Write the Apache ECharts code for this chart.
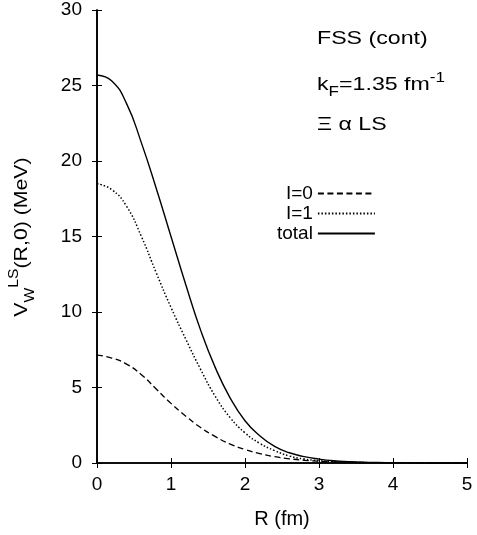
<!DOCTYPE html>
<html>
<head>
<meta charset="utf-8">
<script src="https://cdn.jsdelivr.net/npm/echarts@6/dist/echarts.min.js"></script>
<style>
html,body{margin:0;padding:0;background:#fff;}
#c{width:477px;height:535px;}
</style>
</head>
<body>
<div id="c"></div>
<script>
// R (fm)
var rValues = [0,0.2,0.4,0.6,0.8,1.0,1.2,1.4,1.6,1.8,2.0,2.2,2.4,2.6,2.8,3.0,3.2,3.4,3.6,3.8,4.0,4.2,4.4,4.6,4.8,5.0];
// V (MeV) for I=0 (dashed)
var iso0 = [7.15,6.95,6.55,5.85,4.9,3.95,3.1,2.35,1.75,1.25,0.9,0.62,0.42,0.28,0.18,0.12,0.08,0.05,0.03,0.02,0.01,0.005,0,0,0,0];
// V (MeV) for I=1 (dotted)
var iso1 = [18.5,18.1,17.0,15.0,12.6,10.3,8.2,6.2,4.4,3.0,2.0,1.3,0.82,0.46,0.26,0.15,0.08,0.05,0.03,0.015,0.01,0.005,0,0,0,0];
// V (MeV) total (solid)
var totalV = [25.7,25.3,23.8,21.2,18.2,15.0,11.8,8.8,6.3,4.3,2.8,1.8,1.1,0.68,0.42,0.26,0.15,0.09,0.05,0.03,0.015,0.01,0.005,0,0,0];
var seriesNames = ['I=0','I=1','total'];
var xTicks = [0,1,2,3,4,5];
var yTicks = [0,5,10,15,20,25,30];

function pairs(arr){ return rValues.map(function(r,i){ return [r, arr[i]]; }); }

var FONT = '"Liberation Sans", Arial, sans-serif';
var chart = echarts.init(document.getElementById('c'), null, {renderer:'canvas'});
var axisCommon = {
  axisLine:{show:true, lineStyle:{color:'#000', width:1.6}},
  axisTick:{show:true, inside:true, length:5, lineStyle:{color:'#000', width:1}},
  splitLine:{show:false}
};
chart.setOption({
  animation:false,
  backgroundColor:'#fff',
  color:['#000','#000','#000'],
  grid:{left:97, right:10, top:10, bottom:72},
  textStyle:{fontFamily:FONT},
  legend:{
    orient:'vertical', align:'right', left:272, top:179,
    itemWidth:57, itemHeight:14, itemGap:1,
    data:seriesNames,
    itemStyle:{opacity:0, color:'rgba(0,0,0,0)', borderWidth:0},
    formatter:function(n){ return '{a|'+n+'}'; },
    textStyle:{color:'#000', fontSize:19, fontFamily:FONT,
      rich:{a:{width:48, align:'right', fontSize:19, fontFamily:FONT, color:'#000'}}}
  },
  xAxis:[
    Object.assign({type:'value', min:xTicks[0], max:xTicks[xTicks.length-1], interval:1, position:'bottom',
      name:'R (fm)', nameLocation:'middle', nameGap:46,
      nameTextStyle:{fontSize:20, color:'#000', fontFamily:FONT},
      axisLabel:{show:true, margin:12, fontSize:19, color:'#000', fontFamily:FONT}}, axisCommon),
    Object.assign({type:'value', min:xTicks[0], max:xTicks[xTicks.length-1], interval:1, position:'top',
      axisLabel:{show:false}}, axisCommon)
  ],
  yAxis:[
    Object.assign({type:'value', min:yTicks[0], max:yTicks[yTicks.length-1], interval:5, position:'left',
      axisLabel:{show:true, margin:15, fontSize:19, color:'#000', fontFamily:FONT}}, axisCommon),
    Object.assign({type:'value', min:yTicks[0], max:yTicks[yTicks.length-1], interval:5, position:'right',
      axisLabel:{show:false}}, axisCommon)
  ],
  series:[
    {name:seriesNames[0], type:'line', data:pairs(iso0), showSymbol:false, symbol:'none', smooth:0.5,
      lineStyle:{color:'#000', width:1.3, type:[6,3.5]}},
    {name:seriesNames[1], type:'line', data:pairs(iso1), showSymbol:false, symbol:'none', smooth:0.5,
      lineStyle:{color:'#000', width:1.5, type:[1.5,2]}},
    {name:seriesNames[2], type:'line', data:pairs(totalV), showSymbol:false, symbol:'none', smooth:0.5,
      lineStyle:{color:'#000', width:1.4, type:'solid'}}
  ],
  graphic:[
    {type:'text', x:22, y:237, rotation:Math.PI/2, scaleX:1.12,
      style:{text:'V{sub|W}{sup|LS}(R,0) (MeV)', font:'19px '+FONT, fill:'#000', align:'center', verticalAlign:'middle',
        rich:{sub:{fontSize:14, fontFamily:FONT, verticalAlign:'bottom', lineHeight:30},
              sup:{fontSize:14, fontFamily:FONT, verticalAlign:'top', lineHeight:30}}}},
    {type:'text', x:317, y:39, scaleX:1.22,
      style:{text:'FSS (cont)', font:'19px '+FONT, fill:'#000', verticalAlign:'middle'}},
    {type:'text', x:317, y:85, scaleX:1.22,
      style:{text:'k{s|F}=1.35 fm{p|-1}', font:'19px '+FONT, fill:'#000', verticalAlign:'middle',
        rich:{s:{fontSize:14, verticalAlign:'bottom', lineHeight:28, fontFamily:FONT}, p:{fontSize:14, verticalAlign:'top', lineHeight:28, fontFamily:FONT}}}},
    {type:'text', x:317, y:125, scaleX:1.22,
      style:{text:'\u039E \u03B1 LS', font:'19px '+FONT, fill:'#000', verticalAlign:'middle'}}
  ]
});
</script>
</body>
</html>
